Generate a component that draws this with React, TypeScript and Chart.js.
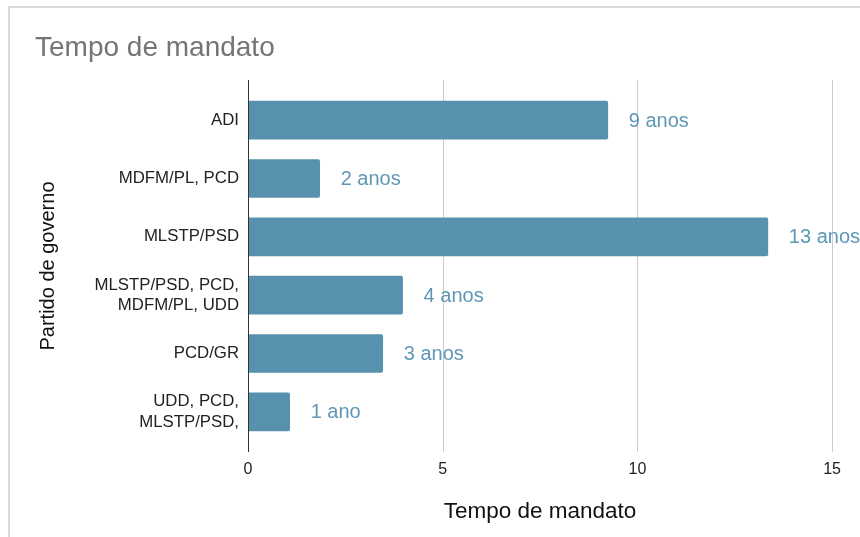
import React, { useEffect, useRef } from "react";
import { Chart, registerables } from "chart.js";

Chart.register(...registerables);

const categories: (string | string[])[] = [
  "ADI",
  "MDFM/PL, PCD",
  "MLSTP/PSD",
  ["MLSTP/PSD, PCD,", "MDFM/PL, UDD"],
  "PCD/GR",
  ["UDD, PCD,", "MLSTP/PSD,"],
];
const values = [9.24, 1.84, 13.35, 3.97, 3.46, 1.07];
const valueLabels = ["9 anos", "2 anos", "13 anos", "4 anos", "3 anos", "1 ano"];
const xTicks = [0, 5, 10, 15];

const FONT = "'Liberation Sans', Arial, sans-serif";
const BAR = "#5891ae";
const LABEL = "#5f97b6";

const decorPlugin = {
  id: "decor",
  beforeDraw(chart: any) {
    const { ctx } = chart;
    ctx.save();
    ctx.fillStyle = "#ffffff";
    ctx.fillRect(0, 0, chart.width, chart.height);
    ctx.strokeStyle = "#dadada";
    ctx.lineWidth = 2;
    ctx.strokeRect(9, 7, chart.width + 20, chart.height + 20);
    // title
    ctx.fillStyle = "#757575";
    ctx.font = `28px ${FONT}`;
    ctx.textBaseline = "middle";
    ctx.textAlign = "left";
    ctx.fillText("Tempo de mandato", 35, 48);
    // grid lines
    const x = chart.scales.x;
    const area = chart.chartArea;
    ctx.strokeStyle = "#cccccc";
    ctx.lineWidth = 1;
    for (const t of xTicks) {
      if (t === 0) continue;
      const px = Math.round(x.getPixelForValue(t)) + 0.5;
      ctx.beginPath();
      ctx.moveTo(px, area.top - 11);
      ctx.lineTo(px, area.bottom + 11);
      ctx.stroke();
    }
    ctx.restore();
  },
  afterDatasetsDraw(chart: any) {
    const { ctx } = chart;
    const x = chart.scales.x;
    const area = chart.chartArea;
    ctx.save();
    ctx.strokeStyle = "#333333";
    ctx.lineWidth = 1;
    const px = Math.round(x.getPixelForValue(0)) + 0.5;
    ctx.beginPath();
    ctx.moveTo(px, area.top - 11);
    ctx.lineTo(px, area.bottom + 11);
    ctx.stroke();
    const meta = chart.getDatasetMeta(0);
    ctx.fillStyle = LABEL;
    ctx.font = `20px ${FONT}`;
    ctx.textBaseline = "middle";
    ctx.textAlign = "left";
    meta.data.forEach((bar: any, i: number) => {
      ctx.fillText(valueLabels[i], bar.x + 21, bar.y + 1);
    });
    ctx.restore();
  },
};

export default function App() {
  const ref = useRef<HTMLCanvasElement>(null);
  useEffect(() => {
    if (!ref.current) return;
    const chart = new Chart(ref.current, {
      type: "bar",
      data: {
        labels: categories,
        datasets: [
          {
            data: values,
            backgroundColor: BAR,
            borderRadius: 2,
            borderSkipped: "start",
            barThickness: 38,
          },
        ],
      },
      options: {
        indexAxis: "y",
        animation: false,
        responsive: false,
        devicePixelRatio: 1,
        layout: { padding: { top: 91, right: 23, bottom: 0, left: 0 } },
        plugins: {
          legend: { display: false },
          tooltip: { enabled: false },
          title: { display: false },
        },
        scales: {
          x: {
            type: "linear",
            min: 0,
            max: 15,
            afterBuildTicks: (s: any) => {
              s.ticks = xTicks.map((v) => ({ value: v }));
            },
            afterFit: (s: any) => {
              s.height = 96;
            },
            grid: { display: false, drawTicks: false },
            border: { display: false },
            ticks: {
              color: "#222222",
              font: { family: FONT, size: 16 },
              padding: 19,
            },
            title: {
              display: true,
              text: "Tempo de mandato",
              color: "#111111",
              font: { family: FONT, size: 22.5 },
              padding: { top: 0, bottom: 12 },
            },
          },
          y: {
            type: "category",
            afterFit: (s: any) => {
              s.width = 248;
            },
            grid: { display: false, drawTicks: false },
            border: { display: false },
            ticks: {
              color: "#222222",
              font: { family: FONT, size: 16.8 },
              padding: 9,
            },
            title: {
              display: true,
              text: "Partido de governo",
              color: "#111111",
              font: { family: FONT, size: 20 },
              padding: { top: 36, bottom: 0 },
            },
          },
        },
      },
      plugins: [decorPlugin],
    });
    return () => chart.destroy();
  }, []);
  return (
    <div style={{ position: "absolute", left: 0, top: 0, width: 860, height: 537 }}>
      <canvas ref={ref} width={860} height={537} />
    </div>
  );
}
